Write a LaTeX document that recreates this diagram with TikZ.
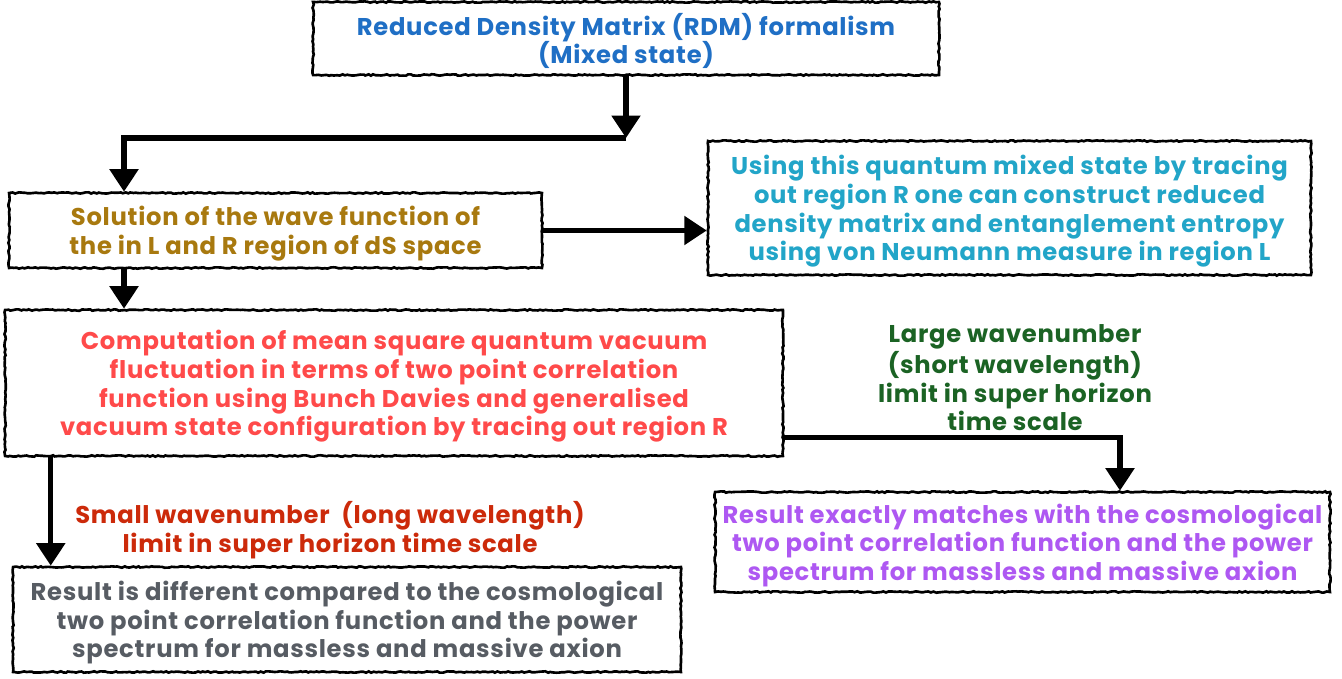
\documentclass[tikz,border=0pt]{standalone}
\usepackage{fontspec}
\setmainfont{Poppins}[LetterSpace=3]
\usepackage{xcolor}
\usetikzlibrary{
arrows.meta,
positioning,
decorations.pathmorphing % rough borders
}
\definecolor{rdmblue}{HTML}{1F6FC5}
\definecolor{solbrown}{HTML}{A8790F}
\definecolor{usecyan}{HTML}{22A5C8}
\definecolor{compred}{HTML}{FF4A4A}
\definecolor{largegreen}{HTML}{1B6324}
\definecolor{smallred}{HTML}{CC2A0A}
\definecolor{matchpurple}{HTML}{AE58F2}
\definecolor{diffgray}{HTML}{575C63}
\newcommand\boxfont{\bfseries\fontsize{13.8}{16.3}\selectfont}

\begin{document}
\begin{tikzpicture}[x=0.02cm,y=-0.02cm,
    box/.style={draw,line width=1.5pt,fill=white,align=center,font=\boxfont,inner xsep=2pt,
      text depth=-11pt,
      decorate,decoration={random steps,segment length=1.5pt,amplitude=0.4pt}},
    arr/.style={line width=3pt,-{Triangle[length=0.45cm,width=0.56cm]}},
    lbl/.style={align=center,font=\boxfont}]
    \useasboundingbox[fill=white] (0,0) rectangle (1342,679);
    \node [box, text=rdmblue, minimum width=12.52cm, minimum height=1.46cm] (rdm) at (626,38.5)
      {Reduced Density Matrix (RDM) formalism\\(Mixed state)};
    \node [box, text=solbrown, minimum width=10.66cm, minimum height=1.5cm] (sol) at (275.5,230.5)
      {Solution of the wave function of\\the in L and R region of dS space};
    \node [box, text=usecyan, minimum width=12.06cm, minimum height=2.68cm] (use) at (1009.5,208)
      {Using this quantum mixed state by tracing\\out region R one can construct reduced\\density matrix and entanglement entropy\\using von Neumann measure in region L};
    \node [box, text=compred, minimum width=15.56cm, minimum height=2.92cm] (comp) at (394,383)
      {Computation of mean square quantum vacuum\\fluctuation in terms of two point correlation\\function using Bunch Davies and generalised\\vacuum state configuration by tracing out region R};
    \node [box, text=matchpurple, minimum width=12.3cm, minimum height=2cm] (match) at (1022.5,542)
      {Result exactly matches with the cosmological\\two point correlation function and the power\\spectrum for massless and massive axion};
    \node [box, text=diffgray, minimum width=13.36cm, minimum height=2.1cm] (diff) at (347,619.5)
      {Result is different compared to the cosmological\\two point correlation function and the power\\spectrum for massless and massive axion};
    \node [lbl, text=largegreen] (large) at (1015,378)
      {Large wavenumber\\(short wavelength)\\limit in super horizon\\time scale};
    \node [lbl, text=smallred] (small) at (330,530)
      {Small wavenumber~~(long wavelength)\\limit in super horizon time scale};
    \coordinate (j1) at (626,138);
    \coordinate (j2) at (124,138);
    \draw[arr] (rdm.south) -- (j1);
    \draw[arr] (j1) -- (j2) -- (j2 |- sol.north);
    \draw[arr] (sol.east) -- (sol.east -| use.west);
    \draw[arr] (sol.south -| j2) -- (comp.north -| j2);
    \draw[arr] ([xshift=0.94cm]comp.south west) -- ([xshift=0.94cm]comp.south west |- diff.north);
    \draw[arr] ([yshift=0.4cm]comp.south east) -| ([xshift=1.95cm]match.north);
\end{tikzpicture}
\end{document}
